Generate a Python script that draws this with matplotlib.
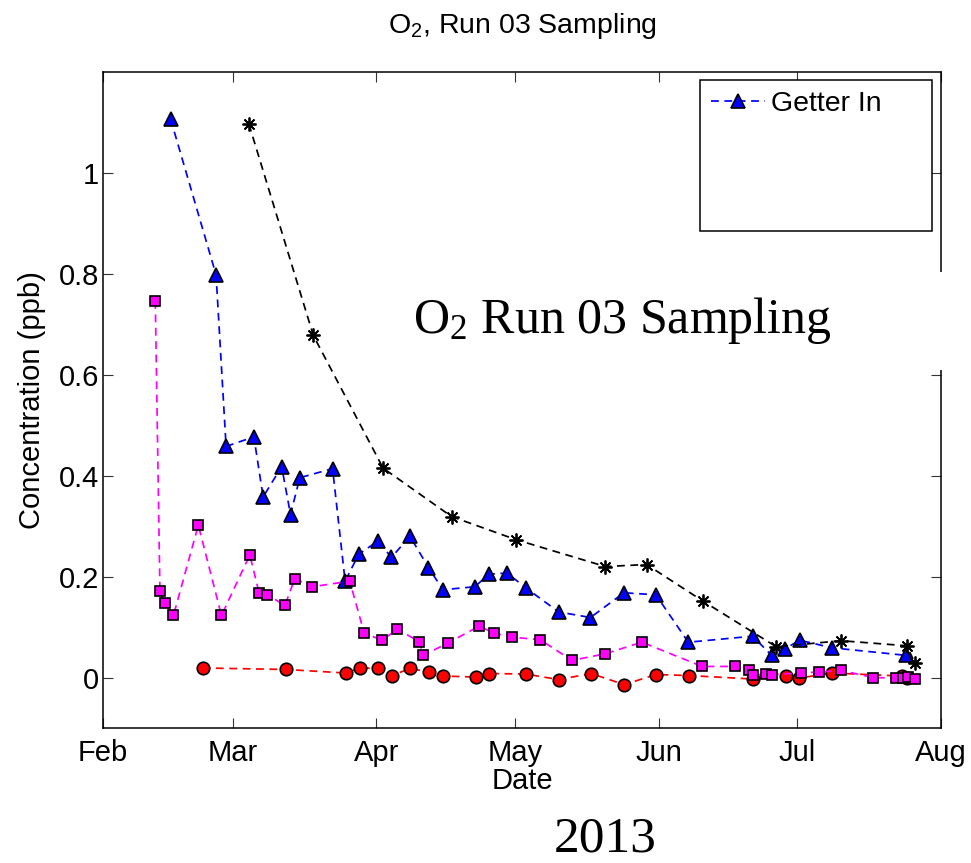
import matplotlib
matplotlib.use("Agg")
import matplotlib.pyplot as plt
import matplotlib.dates as mdates
from matplotlib.patches import Rectangle
import pandas as pd

plt.rcParams["font.family"] = ["Liberation Sans", "DejaVu Sans"]
plt.rcParams["mathtext.default"] = "regular"

# ---- sample data (O2 concentration, ppb) ----
getter_in_dates = [
    "2013-02-15 14:00", "2013-02-25 10:00", "2013-02-27 14:00", "2013-03-05 14:00",
    "2013-03-07 14:00", "2013-03-11 14:00", "2013-03-13 12:00", "2013-03-15 12:00",
    "2013-03-22 14:00", "2013-03-25 07:00", "2013-03-28 05:00", "2013-04-01 10:00",
    "2013-04-04 07:00", "2013-04-08 07:00", "2013-04-12 07:00", "2013-04-15 10:00",
    "2013-04-22 07:00", "2013-04-25 10:00", "2013-04-29 07:00", "2013-05-03 07:00",
    "2013-05-10 10:00", "2013-05-17 07:00", "2013-05-24 12:00", "2013-05-31 10:00",
    "2013-06-07 10:00", "2013-06-21 07:00", "2013-06-25 10:00", "2013-06-28 07:00",
    "2013-07-01 12:00", "2013-07-08 10:00", "2013-07-24 10:00",
]
getter_in_ppb = [
    1.107, 0.798, 0.458, 0.477, 0.358, 0.418, 0.323, 0.396,
    0.414, 0.191, 0.244, 0.271, 0.238, 0.280, 0.218, 0.174,
    0.180, 0.205, 0.207, 0.178, 0.130, 0.119, 0.168, 0.164,
    0.070, 0.082, 0.044, 0.057, 0.074, 0.059, 0.044,
]

star_dates = [
    "2013-03-04 12:00", "2013-03-18 10:00", "2013-04-02 12:00", "2013-04-17 07:00",
    "2013-05-01 07:00", "2013-05-20 12:00", "2013-05-29 10:00", "2013-06-10 12:00",
    "2013-06-26 10:00", "2013-07-10 10:00", "2013-07-24 14:00", "2013-07-26 10:00",
]
star_ppb = [1.097, 0.678, 0.415, 0.319, 0.273, 0.220, 0.224, 0.152,
            0.061, 0.073, 0.063, 0.028]

circle_dates = [
    "2013-02-22 12:00", "2013-03-12 12:00", "2013-03-25 12:00", "2013-03-28 10:00",
    "2013-04-01 12:00", "2013-04-04 10:00", "2013-04-08 07:00", "2013-04-12 12:00",
    "2013-04-15 10:00", "2013-04-22 14:00", "2013-04-25 10:00", "2013-05-03 07:00",
    "2013-05-10 10:00", "2013-05-17 10:00", "2013-05-24 14:00", "2013-05-31 10:00",
    "2013-06-07 14:00", "2013-06-21 12:00", "2013-06-28 10:00", "2013-07-01 10:00",
    "2013-07-08 10:00", "2013-07-23 14:00", "2013-07-24 14:00",
]
circle_ppb = [
    0.019, 0.016, 0.009, 0.019, 0.018, 0.004, 0.018, 0.011,
    0.003, 0.001, 0.008, 0.007, -0.004, 0.008, -0.014, 0.006,
    0.004, -0.003, 0.004, -0.001, 0.009, 0.003, 0.000,
]

square_dates = [
    "2013-02-12 07:00", "2013-02-13 07:00", "2013-02-14 07:00", "2013-02-16 05:00",
    "2013-02-21 14:00", "2013-02-26 14:00", "2013-03-04 17:00", "2013-03-06 17:00",
    "2013-03-08 12:00", "2013-03-12 07:00", "2013-03-14 10:00", "2013-03-18 05:00",
    "2013-03-26 07:00", "2013-03-29 10:00", "2013-04-02 07:00", "2013-04-05 14:00",
    "2013-04-10 07:00", "2013-04-11 05:00", "2013-04-16 14:00", "2013-04-23 07:00",
    "2013-04-26 10:00", "2013-04-30 10:00", "2013-05-06 10:00", "2013-05-13 07:00",
    "2013-05-20 10:00", "2013-05-28 10:00", "2013-06-10 10:00", "2013-06-17 10:00",
    "2013-06-20 12:00", "2013-06-21 12:00", "2013-06-24 07:00", "2013-06-25 14:00",
    "2013-07-01 17:00", "2013-07-05 14:00", "2013-07-10 10:00", "2013-07-17 10:00",
    "2013-07-22 07:00", "2013-07-23 17:00", "2013-07-24 19:00", "2013-07-26 10:00",
]
square_ppb = [
    0.746, 0.172, 0.148, 0.123, 0.302, 0.123, 0.243, 0.168,
    0.164, 0.143, 0.196, 0.180, 0.191, 0.088, 0.074, 0.096,
    0.071, 0.044, 0.069, 0.102, 0.088, 0.080, 0.075, 0.034,
    0.047, 0.070, 0.022, 0.022, 0.015, 0.005, 0.007, 0.006,
    0.009, 0.011, 0.014, 0.000, -0.001, 0.000, 0.001, -0.002,
]

month_ticks = ["2013-02-01", "2013-03-01", "2013-04-01", "2013-05-01",
               "2013-06-01", "2013-07-01", "2013-08-01"]
y_ticks = [0, 0.2, 0.4, 0.6, 0.8, 1.0]
y_tick_labels = ["0", "0.2", "0.4", "0.6", "0.8", "1"]

# ---- figure ----
fig = plt.figure(figsize=(9.71, 8.63), dpi=100)
ax = fig.add_axes([0.1061, 0.1564, 0.8630, 0.7602])

dash = (4.5, 3.2)
common = dict(linestyle="--", dashes=dash, linewidth=1.25,
              markeredgecolor="black", markeredgewidth=1.2)

ax.plot(pd.to_datetime(getter_in_dates), getter_in_ppb, color=(0, 0, 1),
        marker="^", markersize=10, markerfacecolor=(0, 0, 1),
        label="Getter In", **common)
ax.plot(pd.to_datetime(star_dates), star_ppb, color="black",
        marker=(8, 2, 0), markersize=10, linestyle="--", dashes=dash,
        linewidth=1.25, markeredgewidth=1.3)
ax.plot(pd.to_datetime(circle_dates), circle_ppb, color=(1, 0, 0),
        marker="o", markersize=9, markerfacecolor=(1, 0, 0), **common)
ax.plot(pd.to_datetime(square_dates), square_ppb, color=(1, 0, 1),
        marker="s", markersize=7, markerfacecolor=(1, 0, 1), **common)

ax.set_xlim(pd.Timestamp("2013-02-01"), pd.Timestamp("2013-08-01"))
ax.set_ylim(-0.1, 1.2)
ax.set_xticks(pd.to_datetime(month_ticks))
ax.xaxis.set_major_formatter(mdates.DateFormatter("%b"))
ax.set_yticks(y_ticks)
ax.set_yticklabels(y_tick_labels)

ax.tick_params(direction="in", top=True, right=True, length=7, width=0.8,
               labelsize=21, color="#333333")
ax.tick_params(axis="x", pad=8)
ax.tick_params(axis="y", pad=3)
for sp in ax.spines.values():
    sp.set_linewidth(1.1)

ax.set_xlabel("Date", fontsize=21, labelpad=0)
ax.set_ylabel("Concentration (ppb)", fontsize=21, labelpad=9)
ax.set_title("O$_2$, Run 03 Sampling", fontsize=20.5, pad=28)

# legend box (tall frame with a single entry at the top)
box = Rectangle((0.7124, 0.7576), 0.2769, 0.2302, transform=ax.transAxes,
                facecolor="white", edgecolor="black", linewidth=1.1, zorder=5)
ax.add_patch(box)
leg = ax.legend(loc="upper left", bbox_to_anchor=(0.7124, 0.9878),
                frameon=False, fontsize=20.5, numpoints=1, handlelength=1.9,
                handletextpad=0.2, borderpad=0.4, borderaxespad=0)
leg.set_zorder(6)

# annotation panel with its white background
fig.patches.append(Rectangle((0.412, 0.5713), 0.580, 0.1136,
                             transform=fig.transFigure, facecolor="white",
                             edgecolor="none", zorder=3))
fig.text(0.641, 0.614, "O$_2$ Run 03 Sampling", family="Liberation Serif",
         fontsize=36, ha="center", va="baseline", zorder=4)
fig.text(0.623, 0.013, "2013", family="Liberation Serif", fontsize=37,
         ha="center", va="baseline")

fig.savefig("out.png", dpi=100)
